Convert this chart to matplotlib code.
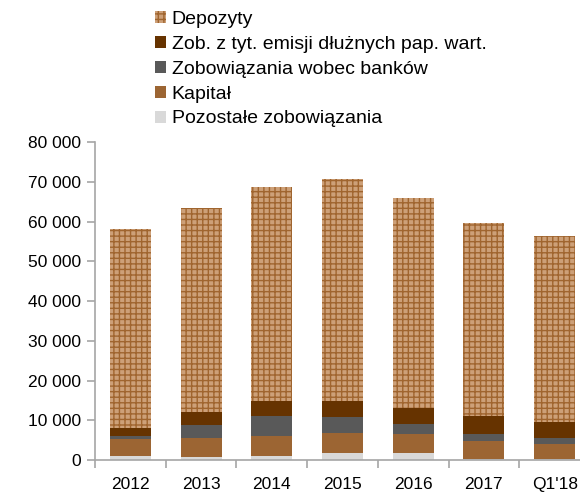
import matplotlib
matplotlib.use("Agg")
import matplotlib.pyplot as plt
from matplotlib.ticker import FuncFormatter, FixedLocator
import numpy as np

categories = ["2012", "2013", "2014", "2015", "2016", "2017", "Q1'18"]
pozostale = [1000, 800, 1000, 1700, 1700, 350, 350]
kapital = [4400, 4800, 5100, 5200, 4800, 4350, 3550]
banki = [700, 3300, 5000, 3900, 2600, 1900, 1650]
dluzne = [1900, 3100, 3700, 4000, 3900, 4500, 4100]
totals = [58200, 63400, 68700, 70700, 66000, 59600, 56300]
depozyty = [t - a - b - c - d for t, a, b, c, d in zip(totals, pozostale, kapital, banki, dluzne)]

plt.rcParams['font.family'] = ['Liberation Sans', 'DejaVu Sans']
plt.rcParams['hatch.linewidth'] = 1.0
FS = 12.5
LFS = 14

fig = plt.figure(figsize=(5.8, 4.98), dpi=100)
ax = fig.add_axes([95/580, 1-460/498, (590-95)/580, (460-142)/498])

x = np.arange(len(categories))
w = 0.58
bottom = np.zeros(len(x))
h_poz = ax.bar(x, pozostale, w, bottom=bottom, color="#D9D9D9", linewidth=0)
bottom += pozostale
h_kap = ax.bar(x, kapital, w, bottom=bottom, color="#9C6533", linewidth=0)
bottom += kapital
h_ban = ax.bar(x, banki, w, bottom=bottom, color="#595959", linewidth=0)
bottom += banki
h_dlu = ax.bar(x, dluzne, w, bottom=bottom, color="#663300", linewidth=0)
bottom += dluzne
h_dep = ax.bar(x, depozyty, w, bottom=bottom, facecolor="#CDA078",
               edgecolor="#A0652F", hatch="+++", linewidth=0)

ax.set_xlim(-0.5, len(x) - 0.5)
ax.set_ylim(0, 80000)
ax.yaxis.set_major_locator(FixedLocator(np.arange(0, 80001, 10000)))
ax.yaxis.set_major_formatter(FuncFormatter(lambda v, p: f"{int(v):,}".replace(",", " ")))
ax.set_xticks(x)
ax.set_xticklabels(categories)
ax.set_xticks(np.arange(-0.5, len(x), 1.0), minor=True)
ax.tick_params(axis='x', which='major', length=0, pad=12, labelsize=FS)
ax.tick_params(axis='x', which='minor', length=6, width=1.2, color="#A6A6A6", direction='out')
ax.tick_params(axis='y', length=6, width=1.2, color="#A6A6A6", labelsize=FS, pad=4)
for s in ['top', 'right']:
    ax.spines[s].set_visible(False)
for s in ['left', 'bottom']:
    ax.spines[s].set_color("#A6A6A6")
    ax.spines[s].set_linewidth(1.2)

handles = [h_dep, h_dlu, h_ban, h_kap, h_poz]
labels = ["Depozyty", "Zob. z tyt. emisji dłużnych pap. wart.", "Zobowiązania wobec banków",
          "Kapitał", "Pozostałe zobowiązania"]
fig.legend(handles, labels, loc='upper left', bbox_to_anchor=(141/580, 1 + 3/498),
           frameon=False, fontsize=LFS, handlelength=0.58, handleheight=0.58,
           handletextpad=0.3, labelspacing=0.41, borderpad=0.2)

fig.savefig("out.png", dpi=100)
